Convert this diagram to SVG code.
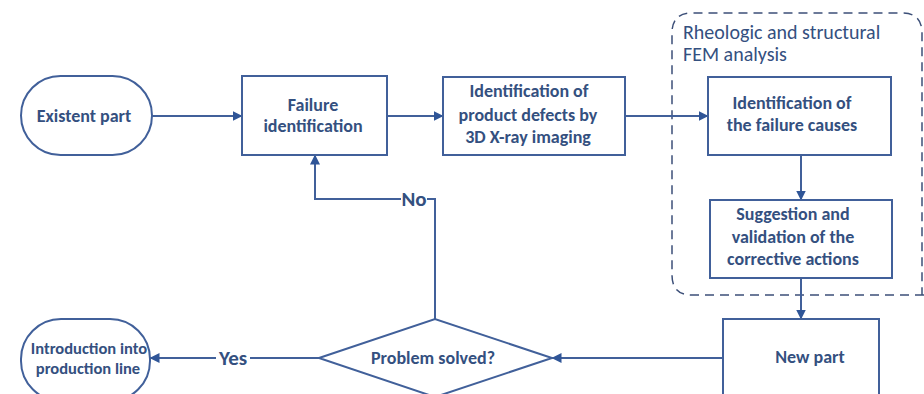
<svg xmlns="http://www.w3.org/2000/svg" width="924" height="394" viewBox="0 0 924 394">
  <defs>
    <marker id="arrow" viewBox="0 0 10 10" refX="9.5" refY="5" markerWidth="10" markerHeight="10" markerUnits="userSpaceOnUse" orient="auto">
      <path d="M0,0 L10,5 L0,10 z" fill="#2f5597"/>
    </marker>
    <style>
      .shape { fill: #ffffff; stroke: #41609a; stroke-width: 2; }
      .line { fill: none; stroke: #41609a; stroke-width: 2; }
      .lbl { font-family: Carlito, "Liberation Sans", sans-serif; font-weight: bold; font-size: 18px; fill: #34507f; text-anchor: middle; }
      .note { font-family: Carlito, "Liberation Sans", sans-serif; font-size: 20px; fill: #34507f; }
      .group { fill: none; stroke: #3c4f78; stroke-width: 1.5; stroke-dasharray: 9 6; }
      .edge-lbl { font-size: 21px; }
    </style>
  </defs>
  <rect width="924" height="394" fill="#ffffff"/>

  <!-- analysis group frame (runs off the right edge) -->
  <g id="fem-group">
    <path class="group" d="M924,295 L692,295 Q672,295 672,275 L672,33 Q672,13 692,13 L902,13 Q922,13 922,33 L922,295"/>
    <text class="note" x="683" y="39">Rheologic and structural</text>
    <text class="note" x="683" y="61">FEM analysis</text>
  </g>

  <!-- connectors -->
  <g id="connectors">
    <line class="line" x1="152" y1="116" x2="242" y2="116" marker-end="url(#arrow)"/>
    <line class="line" x1="387" y1="116" x2="443" y2="116" marker-end="url(#arrow)"/>
    <line class="line" x1="625" y1="116" x2="708" y2="116" marker-end="url(#arrow)"/>
    <line class="line" x1="801" y1="155" x2="801" y2="200" marker-end="url(#arrow)"/>
    <line class="line" x1="801" y1="278" x2="801" y2="319" marker-end="url(#arrow)"/>
    <line class="line" x1="723" y1="358" x2="552" y2="358" marker-end="url(#arrow)"/>
    <!-- Yes branch -->
    <polyline class="line" points="319,358 250,358"/>
    <line class="line" x1="216" y1="358" x2="150" y2="358" marker-end="url(#arrow)"/>
    <text class="lbl edge-lbl" x="233" y="365">Yes</text>
    <!-- No branch -->
    <polyline class="line" points="435,319 435,199 427,199"/>
    <polyline class="line" points="401,199 315,199 315,155" marker-end="url(#arrow)"/>
    <text class="lbl edge-lbl" x="414" y="206">No</text>
  </g>

  <g id="existent-part">
    <rect class="shape" x="21" y="76" width="131" height="79" rx="39.5"/>
    <text class="lbl" x="84" y="122">Existent part</text>
  </g>

  <g id="failure-identification">
    <rect class="shape" x="242" y="76" width="145" height="79"/>
    <text class="lbl" x="313" y="111">Failure</text>
    <text class="lbl" x="313" y="132">identification</text>
  </g>

  <g id="xray-imaging">
    <rect class="shape" x="443" y="77" width="182" height="78"/>
    <text class="lbl" x="529" y="97">Identification of</text>
    <text class="lbl" x="528" y="121">product defects by</text>
    <text class="lbl" x="528" y="143">3D X-ray imaging</text>
  </g>

  <g id="failure-causes">
    <rect class="shape" x="708" y="77" width="183" height="78"/>
    <text class="lbl" x="792" y="109">Identification of</text>
    <text class="lbl" x="792" y="131">the failure causes</text>
  </g>

  <g id="corrective-actions">
    <rect class="shape" x="710" y="200" width="182" height="78"/>
    <text class="lbl" x="793" y="220">Suggestion and</text>
    <text class="lbl" x="793" y="243">validation of the</text>
    <text class="lbl" x="793" y="265">corrective actions</text>
  </g>

  <g id="new-part">
    <rect class="shape" x="723" y="319" width="156" height="90"/>
    <text class="lbl" x="810" y="363">New part</text>
  </g>

  <g id="problem-solved">
    <polygon class="shape" points="319,358 435,319 552,358 435,397"/>
    <text class="lbl" x="433" y="364">Problem solved?</text>
  </g>

  <g id="production-line">
    <rect class="shape" x="21" y="319" width="129" height="82" rx="40"/>
    <text class="lbl" x="89" y="354" style="font-size:16.5px">Introduction into</text>
    <text class="lbl" x="88" y="374" style="font-size:16.5px">production line</text>
  </g>
</svg>
